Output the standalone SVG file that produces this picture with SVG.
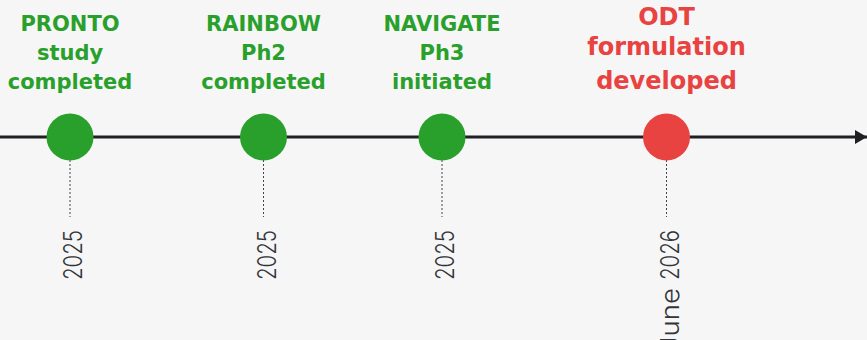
<svg xmlns="http://www.w3.org/2000/svg" width="867" height="340" viewBox="0 0 867 340">
<defs>
<style>
.lbl{font-family:"DejaVu Sans","Noto Sans",sans-serif;font-weight:bold;text-anchor:middle}
.g{fill:#29a02b;font-size:21px}
.r{fill:#e84341;font-size:24px}
.yr{font-family:Inter,"Noto Sans",sans-serif;font-weight:300;font-size:25px;fill:#33343a}
.tick{stroke:#444;stroke-width:1;stroke-dasharray:2 2}
</style>
<marker id="ah" markerWidth="12" markerHeight="14" refX="12" refY="7" orient="auto" markerUnits="userSpaceOnUse">
<path d="M0,0 L12,7 L0,14 Z" fill="#1f1f24"/>
</marker>
</defs>
<rect width="867" height="340" fill="#f6f6f6"/>
<g id="connectors">
<line x1="0" y1="137" x2="867" y2="137" stroke="#1f1f24" stroke-width="3" marker-end="url(#ah)"/>
<line class="tick" x1="70" y1="160" x2="70" y2="217"/>
<line class="tick" x1="263.5" y1="160" x2="263.5" y2="217"/>
<line class="tick" x1="442" y1="160" x2="442" y2="217"/>
<line class="tick" x1="666.5" y1="160" x2="666.5" y2="217"/>
</g>
<g id="pronto">
<circle cx="70" cy="137" r="23.5" fill="#29a02b"/>
<text class="lbl g" x="70" y="31">PRONTO</text>
<text class="lbl g" x="70" y="60">study</text>
<text class="lbl g" x="70" y="89">completed</text>
<text class="yr" transform="translate(82,0) rotate(-90)" x="-280" textLength="50" lengthAdjust="spacingAndGlyphs">2025</text>
</g>
<g id="rainbow">
<circle cx="263.5" cy="137" r="23.5" fill="#29a02b"/>
<text class="lbl g" x="263.5" y="31">RAINBOW</text>
<text class="lbl g" x="263.5" y="60">Ph2</text>
<text class="lbl g" x="263.5" y="89">completed</text>
<text class="yr" transform="translate(275.5,0) rotate(-90)" x="-280" textLength="50" lengthAdjust="spacingAndGlyphs">2025</text>
</g>
<g id="navigate">
<circle cx="442" cy="137" r="23.5" fill="#29a02b"/>
<text class="lbl g" x="442" y="31">NAVIGATE</text>
<text class="lbl g" x="442" y="60">Ph3</text>
<text class="lbl g" x="442" y="89">initiated</text>
<text class="yr" transform="translate(454,0) rotate(-90)" x="-280" textLength="50" lengthAdjust="spacingAndGlyphs">2025</text>
</g>
<g id="odt">
<circle cx="666.5" cy="137" r="23.5" fill="#e84341"/>
<text class="lbl r" x="666.5" y="25">ODT</text>
<text class="lbl r" x="666.5" y="55">formulation</text>
<text class="lbl r" x="666.5" y="89">developed</text>
<text class="yr" transform="translate(678.5,0) rotate(-90)"><tspan x="-352" textLength="64" lengthAdjust="spacingAndGlyphs">June</tspan> <tspan x="-280" textLength="50" lengthAdjust="spacingAndGlyphs">2026</tspan></text>
</g>
</svg>
